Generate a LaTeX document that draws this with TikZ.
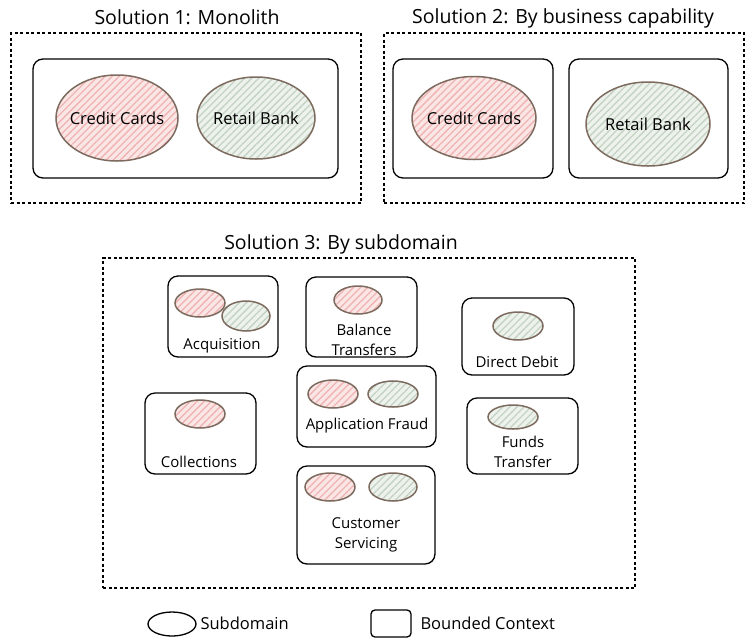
\documentclass[tikz,border=0pt]{standalone}
\usepackage{fontspec}
\setmainfont{Open Sans}
\usetikzlibrary{shapes.geometric,patterns.meta}
\definecolor{pinkfill}{HTML}{FBE6E6}
\definecolor{pinkhatch}{HTML}{EFB3B3}
\definecolor{greenfill}{HTML}{EDF2EC}
\definecolor{greenhatch}{HTML}{C3D3C3}
\definecolor{sdline}{HTML}{7D6B5F}
\tikzset{
  zone/.style 2 args={draw=black, line width=1.1pt, dash pattern=on 3pt off 2.5pt, minimum width=#1, minimum height=#2, inner sep=0pt},
  bc/.style={draw=black, line width=1.3pt, rounded corners=10pt},
  sdpink/.style={ellipse, draw=sdline, line width=1.5pt, preaction={fill=pinkfill},
     pattern={Lines[angle=45,distance=5pt,line width=1.3pt]}, pattern color=pinkhatch},
  sdgreen/.style={ellipse, draw=sdline, line width=1.5pt, preaction={fill=greenfill},
     pattern={Lines[angle=45,distance=5pt,line width=1.3pt]}, pattern color=greenhatch},
  title/.style={font=\fontsize{19.5}{21}\selectfont},
  big/.style={font=\fontsize{16.5}{18}\selectfont},
  lbl/.style={font=\fontsize{15}{20}\selectfont, align=center},
  box/.style 2 args={minimum width=#1, minimum height=#2, inner sep=0pt},
}
\begin{document}
\begin{tikzpicture}[x=1pt,y=-1pt]
\useasboundingbox (0,0) rectangle (754,641);
\fill[white] (0,0) rectangle (754,641);

% Solution 1
\node[title] (t1) at (187,17) {Solution 1: Monolith};
\node[zone={350pt}{170pt}] (z1) at (186,118) {};
\node[bc, box={305pt}{119pt}] (m1) at (185.5,118.5) {};
\node[sdpink, box={122pt}{86pt}] (cc1) at (117,118) {};
\node[big] (cc1l) at (cc1) {Credit Cards};
\node[sdgreen, box={118pt}{82pt}] (rb1) at (256,118) {};
\node[big] (rb1l) at (rb1) {Retail Bank};

% Solution 2
\node[title] (t2) at (563,18) {Solution 2: By business capability};
\node[zone={360pt}{170pt}] (z2) at (564,118) {};
\node[bc, box={160pt}{119pt}] (b2a) at (473,118.5) {};
\node[bc, box={159pt}{119pt}] (b2b) at (648.5,118.5) {};
\node[sdpink, box={124pt}{83pt}] (cc2) at (474,118) {};
\node[big] (cc2l) at (cc2) {Credit Cards};
\node[sdgreen, box={124pt}{84pt}] (rb2) at (648,124) {};
\node[big] (rb2l) at (rb2) {Retail Bank};

% Solution 3
\node[title] (t3) at (341,244) {Solution 3: By subdomain};
\node[zone={532pt}{330pt}] (z3) at (369,423) {};

\node[bc, box={110pt}{81pt}] (acq) at (223,316.5) {};
\node[sdpink, box={50pt}{28pt}] (acqp) at (200,303) {};
\node[sdgreen, box={48pt}{30pt}] (acqg) at (246,316) {};
\node[lbl] (acql) at (222,346) {Acquisition};

\node[bc, box={111pt}{80pt}] (bal) at (361.5,317) {};
\node[sdpink, box={48pt}{28pt}] (balp) at (358,300) {};
\node[lbl] (ball) at (364,340) {Balance\\Transfers};

\node[bc, box={112pt}{77pt}] (dd) at (518,336.5) {};
\node[sdgreen, box={50pt}{28pt}] (ddg) at (518,326) {};
\node[lbl] (ddl) at (517,362) {Direct Debit};

\node[bc, box={111pt}{81pt}] (col) at (200.5,433.5) {};
\node[sdpink, box={50pt}{28pt}] (colp) at (200,414) {};
\node[lbl] (coll) at (199,462) {Collections};

\node[bc, box={139pt}{81pt}] (af) at (366.5,406.5) {};
\node[sdpink, box={50pt}{28pt}] (afp) at (333,394) {};
\node[sdgreen, box={50pt}{26pt}] (afg) at (393,394) {};
\node[lbl] (afl) at (367,426) {Application Fraud};

\node[bc, box={111pt}{76pt}] (ft) at (522.5,436) {};
\node[sdgreen, box={50pt}{24pt}] (ftg) at (513,417) {};
\node[lbl] (ftl) at (523,452) {Funds\\Transfer};

\node[bc, box={138pt}{98pt}] (cs) at (366,515) {};
\node[sdpink, box={50pt}{28pt}] (csp) at (330,487) {};
\node[sdgreen, box={48pt}{28pt}] (csg) at (393,487) {};
\node[lbl] (csl) at (366,535) {Customer\\Servicing};

% Legend
\node[ellipse, draw=black, line width=1.3pt, box={48pt}{24pt}] (lge) at (172,624) {};
\node[big, anchor=west] (lgel) at (197,623) {Subdomain};
\node[draw=black, line width=1.3pt, rounded corners=4pt, box={40pt}{27pt}] (lgr) at (391,623.5) {};
\node[big, anchor=west] (lgrl) at (417,623) {Bounded Context};
\end{tikzpicture}
\end{document}
